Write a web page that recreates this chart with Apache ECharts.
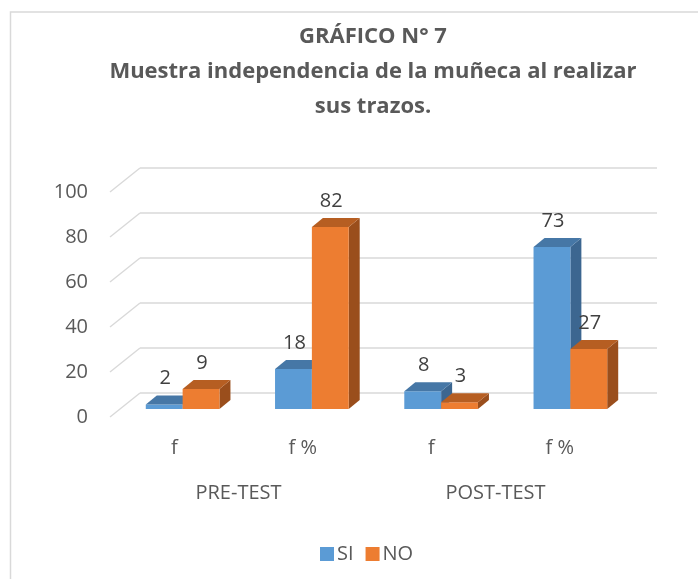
<!DOCTYPE html>
<html>
<head>
<meta charset="utf-8">
<script src="https://cdn.jsdelivr.net/npm/echarts@6/dist/echarts.min.js"></script>
<style>
  html, body { margin: 0; padding: 0; background: #fff; }
  #chart { width: 698px; height: 579px; }
</style>
</head>
<body>
<div id="chart"></div>
<script>
// datos del gráfico
const categories = ['f', 'f %', 'f', 'f %'];
const groups = ['PRE-TEST', 'POST-TEST'];
const siValues = [2, 18, 8, 73];
const noValues = [9, 82, 3, 27];
const yTicks = [0, 20, 40, 60, 80, 100];

const FONT = '"Open Sans", "Noto Sans", sans-serif';
const GREY = '#595959';

// colores: frente, tapa, lado
const siColors = ['#5B9BD5', '#4677A6', '#3C6690'];
const noColors = ['#ED7D31', '#B65E22', '#9A4E1C'];

// desplazamiento de profundidad
const DX = 11, DY = -9;

const renderBar = (side, colors) => (params, api) => {
  const cat = api.value(0);
  const val = api.value(1);
  const base = api.coord([cat, 0]);
  const top = api.coord([cat, val]);
  const w = api.size([1, 0])[0] * 0.285;
  const x0 = side === 0 ? base[0] - w : base[0];
  const x1 = x0 + w;
  const yb = base[1], yt = top[1];
  return {
    type: 'group',
    children: [
      { type: 'polygon', shape: { points: [[x1, yt], [x1 + DX, yt + DY], [x1 + DX, yb + DY], [x1, yb]] }, style: { fill: colors[2] } },
      { type: 'rect', shape: { x: x0, y: yt, width: w, height: yb - yt }, style: { fill: colors[0] } },
      { type: 'polygon', shape: { points: [[x0, yt], [x0 + DX, yt + DY], [x1 + DX, yt + DY], [x1, yt]] }, style: { fill: colors[1] } },
      { type: 'text', z2: 100, style: { x: (x0 + x1) / 2 + 1, y: yt + DY - 17, text: String(val), align: 'center', verticalAlign: 'middle', fill: '#404040', font: '20px ' + FONT } }
    ]
  };
};

const renderDiag = (params, api) => {
  const y = api.coord([0, api.value(1)])[1];
  const x = params.coordSys.x;
  return {
    type: 'line',
    shape: { x1: x, y1: y, x2: x - 30, y2: y + 24 },
    style: { stroke: '#d9d9d9', lineWidth: 1.5 }
  };
};

const myChart = echarts.init(document.getElementById('chart'));

const option = {
  animation: false,
  title: {
    text: 'GRÁFICO N° 7\nMuestra independencia de la muñeca al realizar\nsus trazos.',
    left: 368,
    top: 14,
    textAlign: 'center',
    textStyle: { fontFamily: FONT, fontSize: 22, fontWeight: 'bold', color: GREY, lineHeight: 35 }
  },
  graphic: [{
    type: 'rect',
    shape: { x: 10.5, y: 12, width: 720, height: 600 },
    style: { fill: null, stroke: '#d9d9d9', lineWidth: 1.5 },
    silent: true
  }],
  legend: {
    data: ['SI', 'NO'],
    left: 315,
    top: 539,
    icon: 'rect',
    itemWidth: 14,
    itemHeight: 14,
    itemGap: 12,
    textStyle: { fontFamily: FONT, fontSize: 20, color: GREY, padding: [0, 0, 0, -2] }
  },
  grid: [
    // pared del fondo
    { left: 140, right: 41, top: 168, bottom: 186 },
    // plano frontal de las barras
    { left: 118, right: 63, top: 187, bottom: 170 },
    // borde frontal del piso
    { left: 110, right: 74, top: 192, bottom: 162 }
  ],
  xAxis: [
    { gridIndex: 0, type: 'category', data: categories, show: false },
    { gridIndex: 1, type: 'category', data: categories, show: false },
    {
      gridIndex: 2, type: 'category', data: categories,
      axisLine: { show: false }, axisTick: { show: false },
      axisLabel: { margin: 21, fontFamily: FONT, fontSize: 20, color: GREY }
    },
    {
      gridIndex: 2, type: 'category', data: groups, position: 'bottom', offset: 45,
      axisLine: { show: false }, axisTick: { show: false },
      axisLabel: { margin: 21, fontFamily: FONT, fontSize: 20, color: GREY }
    }
  ],
  yAxis: [
    {
      gridIndex: 0, type: 'value', min: 0, max: 100, interval: 20,
      axisLabel: { show: false }, axisLine: { show: false }, axisTick: { show: false },
      splitLine: { lineStyle: { color: '#d9d9d9', width: 1.5 } }
    },
    {
      gridIndex: 1, type: 'value', min: 0, max: 100, interval: 20, show: false,
      splitLine: { show: false }
    },
    {
      gridIndex: 2, type: 'value', min: 0, max: 100, interval: 20,
      axisLine: { show: false }, axisTick: { show: false }, splitLine: { show: false },
      axisLabel: { margin: 22, fontFamily: FONT, fontSize: 20, color: GREY }
    }
  ],
  series: [
    {
      type: 'custom', name: 'diag', xAxisIndex: 0, yAxisIndex: 0, silent: true,
      data: yTicks.map(v => [0, v]),
      renderItem: renderDiag
    },
    {
      type: 'custom', name: 'SI', xAxisIndex: 1, yAxisIndex: 1,
      itemStyle: { color: siColors[0] },
      data: siValues.map((v, i) => [i, v]),
      renderItem: renderBar(0, siColors)
    },
    {
      type: 'custom', name: 'NO', xAxisIndex: 1, yAxisIndex: 1,
      itemStyle: { color: noColors[0] },
      data: noValues.map((v, i) => [i, v]),
      renderItem: renderBar(1, noColors)
    }
  ]
};

myChart.setOption(option);
</script>
</body>
</html>
